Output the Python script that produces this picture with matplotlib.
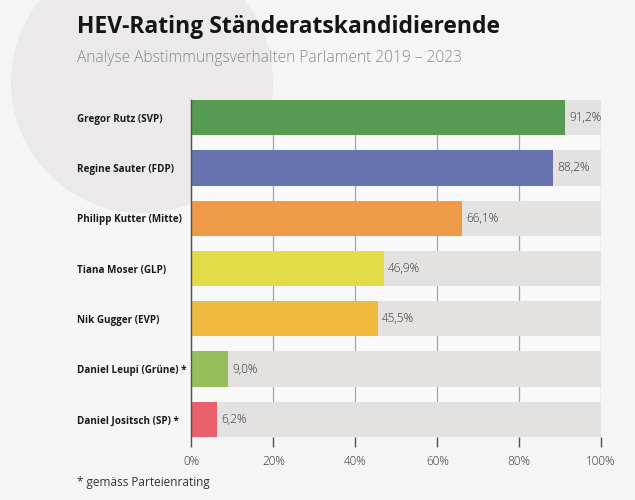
import numpy as np
import matplotlib
matplotlib.use('Agg')
import matplotlib.pyplot as plt
from matplotlib.patches import Circle

# ── data ──────────────────────────────────────────────────────────────────────
candidates = ['Gregor Rutz (SVP)', 'Regine Sauter (FDP)', 'Philipp Kutter (Mitte)',
              'Tiana Moser (GLP)', 'Nik Gugger (EVP)', 'Daniel Leupi (Grüne) *',
              'Daniel Jositsch (SP) *']
ratings = [91.2, 88.2, 66.1, 46.9, 45.5, 9.0, 6.2]
colors = ['#569b51', '#6673ae', '#ef9a47', '#e2dc48', '#f0ba3e', '#93be5a', '#e8606b']
xticks = [0, 20, 40, 60, 80, 100]

TITLE = 'HEV-Rating Ständeratskandidierende'
SUBTITLE = 'Analyse Abstimmungsverhalten Parlament 2019 \u2013 2023'
FOOTNOTE = '* gemäss Parteienrating'

BG = '#f5f5f5'
TRACK = '#e4e2e1'
TXT_X = 77

plt.rcParams['font.family'] = ['Open Sans', 'DejaVu Sans']

W, H = 635, 500
fig = plt.figure(figsize=(W / 100, H / 100), dpi=100, facecolor=BG)

# background decoration: big pale circle, in pixel coords
bg = fig.add_axes([0, 0, 1, 1], zorder=0)
bg.set_xlim(0, W)
bg.set_ylim(H, 0)
bg.axis('off')
bg.add_patch(Circle((142, 82), 131, facecolor='#ebe9e9', edgecolor='none'))

# text in pixel coords
bg.text(TXT_X, 33, TITLE, fontsize=16.5, fontweight='bold', color='#151515',
        va='baseline', ha='left')
bg.text(TXT_X, 62, SUBTITLE, fontsize=11.2, fontweight='light', color='#888888',
        va='baseline', ha='left')
bg.text(TXT_X, 486, FOOTNOTE, fontsize=8.5, color='#333333', va='baseline', ha='left')

# ── chart ─────────────────────────────────────────────────────────────────────
left, right, top, bottom = 191.5, 601, 100, 437
ax = fig.add_axes([left / W, 1 - bottom / H, (right - left) / W, (bottom - top) / H],
                  zorder=1)
ax.set_facecolor('#f9f9f9')

y = np.arange(len(candidates))
bh = 0.7
ax.barh(y, [100] * len(y), height=bh, color=TRACK, zorder=2)
ax.barh(y, ratings, height=bh, color=colors, zorder=3)

for yi, v in zip(y, ratings):
    ax.text(v + 1.0, yi, f'{v:.1f}%'.replace('.', ','), va='center', ha='left',
            fontsize=8.5, fontweight='light', color='#333333', zorder=4)

ax.set_xlim(0, 100)
ax.set_ylim(len(y) - 1 + bh / 2, -bh / 2)
ax.set_xticks(xticks)
ax.set_xticklabels([f'{t}%' for t in xticks], fontsize=8.5, fontweight='light',
                   color='#333333')
ax.xaxis.grid(True, color='#a5a5a5', linewidth=0.9, zorder=1)
ax.set_axisbelow(True)
ax.set_yticks(y)
ax.set_yticklabels(candidates, fontsize=7.1, fontweight='bold', color='#1a1a1a')
for lab in ax.get_yticklabels():
    lab.set_horizontalalignment('left')
ax.tick_params(axis='y', length=0, pad=(left - TXT_X) * 72 / 100)
ax.tick_params(axis='x', length=7, width=1, color='#5a5040', pad=6)

for s in ['top', 'right', 'bottom']:
    ax.spines[s].set_visible(False)
ax.spines['left'].set_color('#5a5040')
ax.spines['left'].set_linewidth(1.0)
ax.spines['left'].set_zorder(5)

fig.savefig('out.png', dpi=100, facecolor=BG)
